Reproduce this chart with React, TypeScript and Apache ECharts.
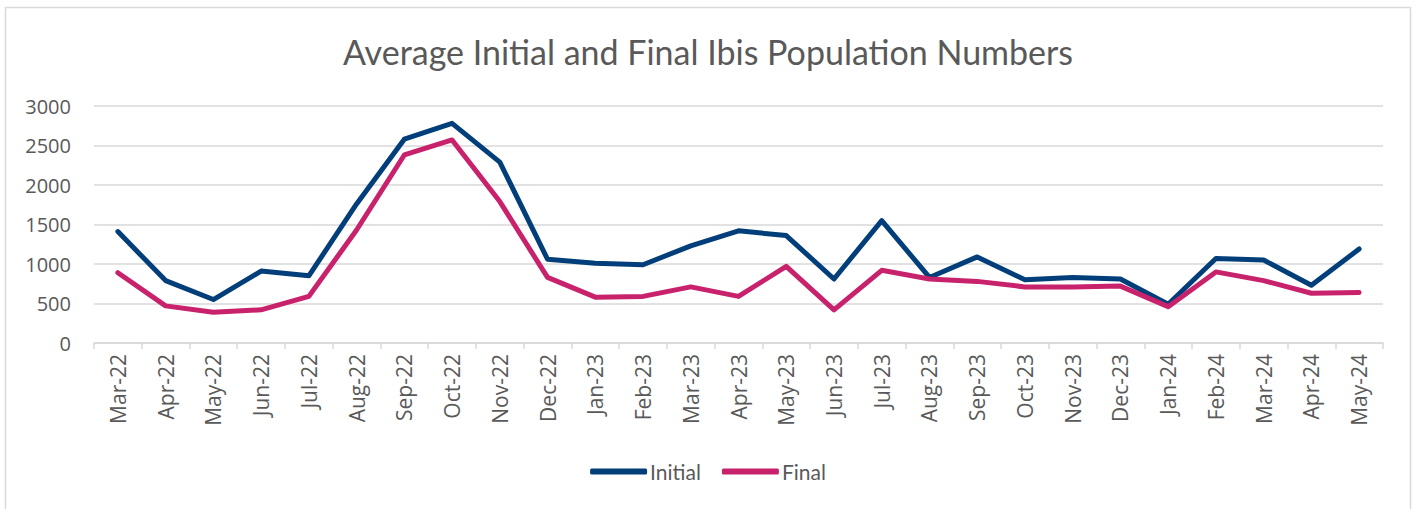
import React, { useEffect, useRef } from "react";
import * as echarts from "echarts";

const months = [
  "Mar-22", "Apr-22", "May-22", "Jun-22", "Jul-22", "Aug-22", "Sep-22", "Oct-22", "Nov-22",
  "Dec-22", "Jan-23", "Feb-23", "Mar-23", "Apr-23", "May-23", "Jun-23", "Jul-23", "Aug-23",
  "Sep-23", "Oct-23", "Nov-23", "Dec-23", "Jan-24", "Feb-24", "Mar-24", "Apr-24", "May-24",
];

const initialValues = [
  1410, 790, 550, 910, 850, 1760, 2580, 2780, 2290,
  1060, 1010, 990, 1230, 1420, 1360, 810, 1550, 830,
  1090, 800, 830, 810, 490, 1070, 1050, 730, 1190,
];

const finalValues = [
  890, 470, 390, 420, 590, 1430, 2380, 2570, 1790,
  830, 580, 590, 710, 590, 970, 420, 920, 810,
  780, 710, 710, 720, 460, 900, 790, 630, 640,
];

const yTicks = { min: 0, max: 3000, interval: 500 };

const titleText = "Average Initial and Final Ibis Population Numbers";
const seriesNames = ["Initial", "Final"];

export default function App() {
  const ref = useRef<HTMLDivElement>(null);

  useEffect(() => {
    document.body.style.margin = "0";
    if (!ref.current) return;
    const chart = echarts.init(ref.current, undefined, { renderer: "svg" });
    const axisColor = "#595959";
    const gridColor = "#d9d9d9";
    chart.setOption({
      animation: false,
      backgroundColor: "#ffffff",
      title: {
        text: titleText,
        left: "center",
        top: 29,
        textStyle: {
          fontFamily: "Lato",
          fontSize: 34,
          fontWeight: "normal",
          color: "#595959",
        },
      },
      graphic: [
        {
          type: "rect",
          shape: { x: 5.5, y: 7.5, width: 1405, height: 520 },
          style: { fill: "none", stroke: "#d9d9d9", lineWidth: 1.5 },
          silent: true,
        },
      ],
      legend: {
        data: seriesNames,
        bottom: 22,
        left: "center",
        itemWidth: 57,
        itemHeight: 6,
        itemGap: 21,
        icon: "roundRect",
        textStyle: {
          fontFamily: "Lato",
          fontSize: 21,
          color: "#595959",
          padding: [0, 0, 0, -2],
        },
      },
      grid: {
        left: 94,
        right: 33,
        top: 106,
        bottom: 166,
        containLabel: false,
      },
      xAxis: {
        type: "category",
        data: months,
        boundaryGap: true,
        axisLine: { lineStyle: { color: gridColor, width: 1.5 } },
        axisTick: { show: true, alignWithLabel: false, length: 6, lineStyle: { color: gridColor, width: 1.5 } },
        axisLabel: {
          rotate: 90,
          interval: 0,
          margin: 11,
          fontFamily: "Open Sans",
          fontSize: 21,
          color: axisColor,
        },
      },
      yAxis: {
        type: "value",
        min: yTicks.min,
        max: yTicks.max,
        interval: yTicks.interval,
        axisLine: { show: false },
        axisTick: { show: false },
        splitLine: { lineStyle: { color: gridColor, width: 1.5 } },
        axisLabel: {
          margin: 23,
          fontFamily: "Open Sans",
          fontSize: 20,
          color: axisColor,
          formatter: (v: number) => String(v),
        },
      },
      series: [
        {
          name: seriesNames[0],
          type: "line",
          data: initialValues,
          symbol: "none",
          color: "#023f7a",
          lineStyle: { width: 5, color: "#023f7a", cap: "round", join: "round" },
        },
        {
          name: seriesNames[1],
          type: "line",
          data: finalValues,
          symbol: "none",
          color: "#c8226d",
          lineStyle: { width: 5, color: "#c8226d", cap: "round", join: "round" },
        },
      ],
    });
    return () => chart.dispose();
  }, []);

  return (
    <div
      ref={ref}
      style={{ position: "absolute", left: 0, top: 0, width: 1416, height: 509 }}
    />
  );
}
